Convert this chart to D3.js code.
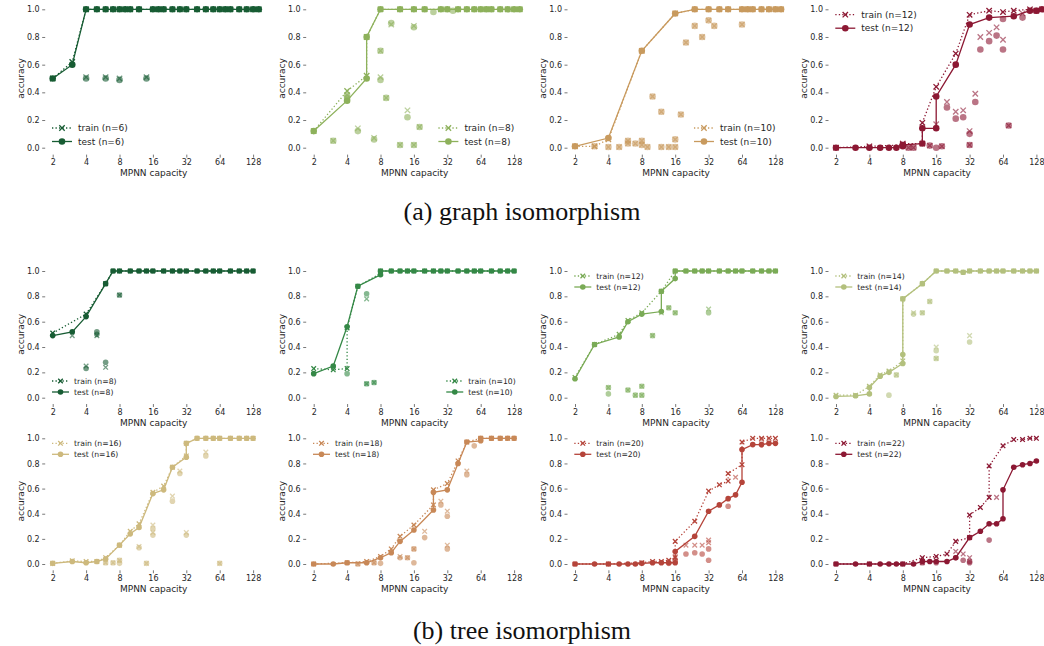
<!DOCTYPE html>
<html><head><meta charset="utf-8">
<script src="https://cdn.jsdelivr.net/npm/d3@7"></script>
<style>body{margin:0;background:#fff;} svg{display:block;}</style>
</head><body><svg id="c" width="1044" height="646"></svg>
<script>
// ---------- tick labels ----------
const xTicks = [2, 4, 8, 16, 32, 64, 128];
const yTicks = [0, 0.2, 0.4, 0.6, 0.8, 1.0];
const captions = ["(a) graph isomorphism", "(b) tree isomorphism"];

// ---------- graph isomorphism, n=6 ----------
const g6TestLine = [[2,0.50],[3,0.60],[4,1],[5,1],[6,1],[7,1],[8,1],[9,1],[10,1],[12,1],[16,1],[18,1],[20,1],[24,1],[28,1],[32,1],[40,1],[48,1],[56,1],[64,1],[72,1],[80,1],[96,1],[112,1],[128,1],[144,1]];
const g6TrainLine = [[2,0.50],[3,0.62],[4,1],[5,1],[6,1],[7,1],[8,1],[9,1],[10,1],[12,1],[16,1],[18,1],[20,1],[24,1],[28,1],[32,1],[40,1],[48,1],[56,1],[64,1],[72,1],[80,1],[96,1],[112,1],[128,1],[144,1]];
const g6TrainRuns = [[4,0.51],[6,0.51],[8,0.50],[14,0.51]];
const g6TestRuns = [[4,0.50],[6,0.50],[8,0.49],[14,0.50]];

// ---------- graph isomorphism, n=8 ----------
const g8TestLine = [[2,0.12],[4,0.34],[6,0.50],[6,0.80],[8,1],[12,1],[16,1],[20,1],[28,1],[32,1],[40,1],[48,1],[56,1],[64,1],[72,1],[80,1],[96,1],[112,1],[128,1],[144,1]];
const g8TrainLine = [[2,0.12],[4,0.41],[6,0.52],[6,0.80],[8,1],[12,1],[16,1],[20,1],[28,1],[32,1],[40,1],[48,1],[56,1],[64,1],[72,1],[80,1],[96,1],[112,1],[128,1],[144,1]];
const g8TrainRuns = [[3,0.05],[4,0.38],[5,0.14],[7,0.07],[8,0.70],[8,0.51],[9,0.36],[10,0.89],[12,0.02],[14,0.27],[16,0.88],[16,0.02],[18,0.15]];
const g8TestRuns = [[3,0.05],[4,0.36],[4,0.38],[5,0.12],[7,0.06],[8,0.70],[8,0.49],[9,0.36],[10,0.90],[12,0.02],[14,0.22],[16,0.87],[16,0.02],[18,0.15],[24,0.98],[36,0.99]];

// ---------- graph isomorphism, n=10 ----------
const g10TestLine = [[2,0.01],[4,0.07],[8,0.70],[16,0.97],[24,1],[32,1],[40,1],[48,1],[64,1],[72,1],[80,1],[96,1],[112,1],[128,1],[144,1]];
const g10TrainLine = [[2,0.01],[3,0.01],[4,0.06],[8,0.70],[16,0.97],[24,1],[32,1],[40,1],[48,1],[64,1],[72,1],[80,1],[96,1],[112,1],[128,1],[144,1]];
const g10TrainRuns = [[3,0.01],[4,0.005],[5,0.005],[6,0.05],[6,0.03],[7,0.03],[8,0.05],[8,0.02],[9,0.005],[10,0.37],[12,0.26],[12,0.005],[14,0.005],[16,0.06],[16,0.005],[18,0.24],[20,0.76],[24,0.88],[28,0.80],[32,0.92],[36,0.88],[64,0.89]];
const g10TestRuns = [[3,0.01],[4,0.005],[5,0.005],[6,0.05],[6,0.03],[7,0.03],[8,0.05],[8,0.02],[9,0.005],[10,0.37],[12,0.26],[12,0.005],[14,0.005],[16,0.06],[16,0.005],[18,0.24],[20,0.76],[24,0.88],[28,0.80],[32,0.92],[36,0.88],[64,0.89]];

// ---------- graph isomorphism, n=12 ----------
const g12TestLine = [[2,0],[3,0],[4,0],[5,0],[6,0],[7,0],[8,0.01],[8,0.02],[12,0.03],[12,0.14],[16,0.14],[16,0.37],[24,0.60],[32,0.89],[48,0.94],[80,0.95],[112,0.99],[128,0.99],[144,1.0]];
const g12TrainLine = [[2,0],[4,0.01],[8,0.02],[8,0.03],[12,0.03],[12,0.18],[16,0.44],[24,0.68],[32,0.96],[48,0.99],[64,0.98],[80,0.99],[112,1.0],[128,0.99],[144,1.0]];
const g12TrainRuns = [[9,0],[10,0],[14,0.015],[16,0.17],[18,0.01],[20,0.33],[24,0.26],[28,0.27],[32,0.12],[32,0.02],[36,0.39],[40,0.80],[48,0.83],[56,0.87],[64,0.78],[72,0.16],[96,0.97]];
const g12TestRuns = [[8,0.02],[9,0],[10,0],[14,0.015],[16,0],[18,0.01],[20,0.29],[24,0.21],[28,0.22],[32,0.10],[32,0.02],[36,0.33],[40,0.71],[48,0.77],[56,0.81],[64,0.71],[64,0.93],[72,0.16],[96,0.94],[128,0.99]];

// ---------- tree isomorphism, n=8 ----------
const t8TestLine = [[2,0.49],[3,0.52],[4,0.64],[6,0.90],[7,1],[8,1],[10,1],[12,1],[14,1],[16,1],[20,1],[24,1],[28,1],[32,1],[40,1],[48,1],[56,1],[64,1],[80,1],[96,1],[112,1],[128,1]];
const t8TrainLine = [[2,0.51],[4,0.66],[6,0.90],[7,1],[8,1],[10,1],[12,1],[14,1],[16,1],[20,1],[24,1],[28,1],[32,1],[40,1],[48,1],[56,1],[64,1],[80,1],[96,1],[112,1],[128,1]];
const t8TrainRuns = [[3,0.49],[4,0.25],[5,0.49],[6,0.24],[8,0.81]];
const t8TestRuns = [[4,0.23],[5,0.52],[5,0.50],[6,0.28],[8,0.81]];

// ---------- tree isomorphism, n=10 ----------
const t10TestLine = [[2,0.19],[3,0.25],[4,0.56],[5,0.88],[8,0.97],[8,1],[10,1],[12,1],[14,1],[16,1],[20,1],[24,1],[28,1],[32,1],[40,1],[48,1],[56,1],[64,1],[80,1],[96,1],[112,1],[128,1]];
const t10TrainLine = [[2,0.23],[3,0.22],[4,0.23],[4,0.55],[5,0.88],[8,0.98],[8,1],[10,1],[12,1],[14,1],[16,1],[20,1],[24,1],[28,1],[32,1],[40,1],[48,1],[56,1],[64,1],[80,1],[96,1],[112,1],[128,1]];
const t10TrainRuns = [[6,0.78],[6,0.11],[7,0.12]];
const t10TestRuns = [[4,0.19],[6,0.82],[6,0.11],[7,0.12]];

// ---------- tree isomorphism, n=12 ----------
const t12TestLine = [[2,0.15],[3,0.42],[5,0.48],[6,0.60],[8,0.66],[12,0.68],[12,0.84],[16,0.94],[16,1],[20,1],[24,1],[28,1],[32,1],[40,1],[48,1],[56,1],[64,1],[80,1],[96,1],[112,1],[128,1]];
const t12TrainLine = [[2,0.16],[3,0.42],[5,0.50],[6,0.61],[8,0.67],[12,0.84],[16,1],[20,1],[24,1],[28,1],[32,1],[40,1],[48,1],[56,1],[64,1],[80,1],[96,1],[112,1],[128,1]];
const t12TrainRuns = [[4,0.08],[6,0.06],[7,0.02],[8,0.09],[8,0.02],[10,0.49],[12,0.67],[14,0.71],[16,0.67],[32,0.70]];
const t12TestRuns = [[4,0.08],[4,0.03],[6,0.06],[7,0.02],[8,0.09],[8,0.02],[10,0.49],[14,0.71],[16,0.67],[32,0.67]];

// ---------- tree isomorphism, n=14 ----------
const t14TestLine = [[2,0.01],[3,0.015],[4,0.03],[4,0.08],[5,0.17],[6,0.20],[8,0.27],[8,0.34],[8,0.78],[12,0.90],[16,1],[20,1],[24,1],[28,0.99],[32,1],[40,1],[48,1],[56,1],[64,1],[80,1],[96,1],[112,1],[128,1]];
const t14TrainLine = [[2,0.02],[3,0.02],[4,0.09],[5,0.18],[6,0.21],[8,0.29],[8,0.78],[12,0.90],[16,1],[20,1],[24,1],[28,0.99],[32,1],[40,1],[48,1],[56,1],[64,1],[80,1],[96,1],[112,1],[128,1]];
const t14TrainRuns = [[7,0.18],[10,0.67],[12,0.67],[14,0.76],[16,0.40],[16,0.31],[32,0.49]];
const t14TestRuns = [[6,0.02],[7,0.18],[10,0.66],[12,0.67],[14,0.76],[16,0.37],[16,0.31],[32,0.44]];

// ---------- tree isomorphism, n=16 ----------
const t16TestLine = [[2,0.005],[3,0.02],[4,0.01],[5,0.02],[6,0.04],[8,0.15],[10,0.24],[12,0.29],[16,0.56],[20,0.59],[24,0.77],[32,0.85],[32,0.96],[40,1],[48,1],[56,1],[64,1],[80,1],[96,1],[112,1],[128,1]];
const t16TrainLine = [[2,0.005],[3,0.025],[4,0.02],[5,0.02],[6,0.05],[8,0.15],[10,0.26],[12,0.32],[16,0.57],[20,0.62],[24,0.77],[32,0.86],[32,0.96],[40,1],[48,1],[56,1],[64,1],[80,1],[96,1],[112,1],[128,1]];
const t16TrainRuns = [[6,0.01],[7,0.01],[8,0.03],[12,0.14],[14,0.005],[16,0.31],[16,0.25],[24,0.54],[28,0.74],[32,0.25],[48,0.89],[64,0.005]];
const t16TestRuns = [[6,0.01],[7,0.01],[8,0.03],[8,0.005],[12,0.13],[14,0.005],[16,0.28],[16,0.23],[24,0.50],[28,0.72],[32,0.23],[48,0.86],[64,0.005]];

// ---------- tree isomorphism, n=18 ----------
const t18TestLine = [[2,0],[3,0],[4,0.01],[6,0.01],[8,0.05],[10,0.09],[12,0.18],[16,0.27],[24,0.43],[24,0.57],[32,0.59],[40,0.80],[48,0.97],[64,0.98],[64,1],[80,1],[96,1],[112,1],[128,1]];
const t18TrainLine = [[2,0],[4,0.01],[6,0.02],[8,0.06],[10,0.12],[12,0.22],[16,0.31],[24,0.47],[24,0.59],[32,0.64],[40,0.82],[48,0.97],[64,1],[80,1],[96,1],[112,1],[128,1]];
const t18TrainRuns = [[5,0],[7,0.01],[12,0.06],[14,0.05],[16,0.12],[20,0.26],[28,0.50],[32,0.42],[32,0.15],[48,0.74]];
const t18TestRuns = [[5,0],[7,0.01],[8,0.005],[12,0.05],[14,0.05],[16,0.12],[16,0.01],[20,0.21],[28,0.47],[32,0.38],[32,0.12],[48,0.71],[56,0.94]];

// ---------- tree isomorphism, n=20 ----------
const t20TestLine = [[2,0],[3,0],[4,0],[5,0],[6,0],[7,0],[8,0.005],[10,0.01],[12,0.01],[14,0.01],[16,0.01],[16,0.10],[24,0.22],[32,0.42],[40,0.47],[48,0.52],[56,0.55],[64,0.65],[64,0.91],[80,0.95],[96,0.95],[112,0.96],[128,0.96]];
const t20TrainLine = [[2,0],[4,0],[8,0.01],[10,0.02],[12,0.02],[14,0.03],[16,0.05],[16,0.18],[24,0.34],[32,0.58],[40,0.63],[48,0.66],[48,0.72],[64,0.79],[64,0.97],[80,1],[96,1],[112,1],[128,1]];
const t20TrainRuns = [[16,0.06],[20,0.15],[24,0.15],[28,0.15],[32,0.19],[32,0.17],[56,0.69],[96,0.99]];
const t20TestRuns = [[14,0.005],[16,0.03],[20,0.08],[24,0.09],[28,0.08],[32,0.12],[32,0.03],[48,0.46],[96,0.95]];

// ---------- tree isomorphism, n=22 ----------
const t22TestLine = [[2,0],[3,0],[4,0],[5,0],[6,0],[7,0],[8,0],[10,0],[12,0.02],[14,0.02],[16,0.02],[20,0.02],[24,0.05],[32,0.21],[40,0.26],[48,0.32],[56,0.32],[64,0.36],[64,0.59],[80,0.77],[96,0.79],[112,0.80],[128,0.82]];
const t22TrainLine = [[2,0],[4,0],[8,0],[12,0.05],[16,0.06],[20,0.08],[24,0.18],[32,0.21],[32,0.39],[40,0.45],[48,0.53],[48,0.78],[64,0.94],[80,0.99],[96,0.99],[112,1],[128,1]];
const t22TrainRuns = [[12,0.01],[24,0.10],[28,0.08],[32,0.05],[56,0.53]];
const t22TestRuns = [[12,0.01],[16,0.01],[24,0.05],[28,0.03],[32,0.01],[32,0.02],[48,0.19]];

// ---------- panel table (built from the arrays above) ----------
const panels = [
  {row:0,col:0,n:6, color:"#175c33",test:g6TestLine, train:g6TrainLine, testRuns:g6TestRuns, trainRuns:g6TrainRuns, leg:"ll"},
  {row:0,col:1,n:8, color:"#8db15b",test:g8TestLine, train:g8TrainLine, testRuns:g8TestRuns, trainRuns:g8TrainRuns, leg:"lr"},
  {row:0,col:2,n:10,color:"#c89a5e",test:g10TestLine,train:g10TrainLine,testRuns:g10TestRuns,trainRuns:g10TrainRuns,leg:"lr"},
  {row:0,col:3,n:12,color:"#8c1833",test:g12TestLine,train:g12TrainLine,testRuns:g12TestRuns,trainRuns:g12TrainRuns,leg:"ul"},
  {row:1,col:0,n:8, color:"#175c33",test:t8TestLine, train:t8TrainLine, testRuns:t8TestRuns, trainRuns:t8TrainRuns, leg:"ll"},
  {row:1,col:1,n:10,color:"#348846",test:t10TestLine,train:t10TrainLine,testRuns:t10TestRuns,trainRuns:t10TrainRuns,leg:"lr"},
  {row:1,col:2,n:12,color:"#7aab56",test:t12TestLine,train:t12TrainLine,testRuns:t12TestRuns,trainRuns:t12TrainRuns,leg:"ul"},
  {row:1,col:3,n:14,color:"#b3c07d",test:t14TestLine,train:t14TrainLine,testRuns:t14TestRuns,trainRuns:t14TrainRuns,leg:"ul"},
  {row:2,col:0,n:16,color:"#cdb97d",test:t16TestLine,train:t16TrainLine,testRuns:t16TestRuns,trainRuns:t16TrainRuns,leg:"ul"},
  {row:2,col:1,n:18,color:"#c88857",test:t18TestLine,train:t18TrainLine,testRuns:t18TestRuns,trainRuns:t18TrainRuns,leg:"ul"},
  {row:2,col:2,n:20,color:"#b5443a",test:t20TestLine,train:t20TrainLine,testRuns:t20TestRuns,trainRuns:t20TrainRuns,leg:"ul"},
  {row:2,col:3,n:22,color:"#8c1833",test:t22TestLine,train:t22TrainLine,testRuns:t22TestRuns,trainRuns:t22TrainRuns,leg:"ul"}
];

// ---------- layout ----------
const rows = [
  {y1: 9.3,   y0: 147.7, small:false},
  {y1: 271,   y0: 397.7, small:true},
  {y1: 438.3, y0: 564,   small:true}
];
const colX2 = [52.7, 313.7, 575, 836];
const octave = 33.4;
const FONT = "'DejaVu Sans', sans-serif";
const TXT = "#262626";

const svg = d3.select("#c");

function drawX(g, cx, cy, h, color, op) {
  g.append("path")
    .attr("d", `M${cx-h},${cy-h}L${cx+h},${cy+h}M${cx-h},${cy+h}L${cx+h},${cy-h}`)
    .attr("stroke", color).attr("stroke-width", 1.3).attr("fill", "none")
    .attr("opacity", op);
}

panels.forEach(p => {
  const r = rows[p.row];
  const x2 = colX2[p.col];
  const s = r.small
    ? {rad:2.8, xh:2.3, legFont:7.7, handle:17, textOff:22, rowGap:11}
    : {rad:3.3, xh:2.7, legFont:9,   handle:20, textOff:26, rowGap:13.5};
  const x = d3.scaleLog().base(2).domain([2, 128]).range([x2, x2 + 6 * octave]);
  const y = d3.scaleLinear().domain([0, 1]).range([r.y0, r.y1]);
  const g = svg.append("g");
  const axisLeftX = x2 - 7.5;
  const axisBottomY = y(-0.05);

  // y axis
  const ya = g.append("g").attr("transform", `translate(${axisLeftX},0)`)
    .call(d3.axisLeft(y).tickValues(yTicks).tickFormat(d3.format(".1f")).tickSize(3).tickPadding(2.5));
  ya.select(".domain").remove();
  ya.selectAll("line").attr("stroke", "#555").attr("stroke-width", 0.8);
  ya.selectAll("text").attr("font-family", FONT).attr("font-size", 8).attr("fill", TXT);

  // x axis
  const xa = g.append("g").attr("transform", `translate(0,${axisBottomY})`)
    .call(d3.axisBottom(x).tickValues(xTicks).tickFormat(d3.format("d")).tickSize(3).tickPadding(2));
  xa.select(".domain").remove();
  xa.selectAll("line").attr("stroke", "#555").attr("stroke-width", 0.8);
  xa.selectAll("text").attr("font-family", FONT).attr("font-size", 8).attr("fill", TXT);

  // axis labels
  g.append("text").attr("x", x2 + 101).attr("y", axisBottomY + 21.7)
    .attr("text-anchor", "middle").attr("font-family", FONT).attr("font-size", 9)
    .attr("fill", TXT).text("MPNN capacity");
  g.append("text")
    .attr("transform", `translate(${x2 - 32},${(r.y0 + r.y1) / 2}) rotate(-90)`)
    .attr("dy", "0.32em").attr("text-anchor", "middle")
    .attr("font-family", FONT).attr("font-size", 9).attr("fill", TXT).text("accuracy");

  // other runs (lighter)
  p.trainRuns.forEach(d => drawX(g, x(d[0]), y(d[1]), s.xh, p.color, 0.6));
  g.selectAll(null).data(p.testRuns).enter().append("circle")
    .attr("cx", d => x(d[0])).attr("cy", d => y(d[1])).attr("r", s.rad)
    .attr("fill", p.color).attr("opacity", 0.6);

  const line = d3.line().x(d => x(d[0])).y(d => y(d[1]));
  // train line (dotted, x markers)
  g.append("path").attr("d", line(p.train)).attr("fill", "none")
    .attr("stroke", p.color).attr("stroke-width", 1.3).attr("stroke-dasharray", "1.3,2.2");
  p.train.forEach(d => drawX(g, x(d[0]), y(d[1]), s.xh, p.color, 1));
  // test line (solid, circle markers)
  g.append("path").attr("d", line(p.test)).attr("fill", "none")
    .attr("stroke", p.color).attr("stroke-width", 1.3);
  g.selectAll(null).data(p.test).enter().append("circle")
    .attr("cx", d => x(d[0])).attr("cy", d => y(d[1])).attr("r", s.rad)
    .attr("fill", p.color);

  // legend
  const items = [
    {label: `train (n=${p.n})`, dashed: true},
    {label: `test (n=${p.n})`, dashed: false}
  ];
  const lg = g.append("g");
  const texts = items.map((it, i) => lg.append("text").attr("x", s.textOff).attr("y", i * s.rowGap)
      .attr("dy", "0.35em").attr("font-family", FONT).attr("font-size", s.legFont)
      .attr("fill", TXT).text(it.label));
  const maxW = d3.max(texts, t => t.node().getComputedTextLength());
  items.forEach((it, i) => {
    const yy = i * s.rowGap;
    const ln = lg.append("line").attr("x1", 0).attr("x2", s.handle).attr("y1", yy).attr("y2", yy)
      .attr("stroke", p.color).attr("stroke-width", 1.3);
    if (it.dashed) { ln.attr("stroke-dasharray", "1.3,2.2"); drawX(lg, s.handle / 2, yy, s.xh, p.color, 1); }
    else lg.append("circle").attr("cx", s.handle / 2).attr("cy", yy).attr("r", s.rad).attr("fill", p.color);
  });
  let lx, ly;
  if (p.leg === "ll") { lx = x2 - 0.7; ly = r.y0 - (r.small ? 16.7 : 19.7); }
  else if (p.leg === "lr") { lx = x2 + (r.small ? 202 : 200.5) - s.textOff - maxW; ly = r.y0 - (r.small ? 16.7 : 19.7); }
  else { lx = x2 - 0.7; ly = r.y1 + (r.small ? 5 : 5.4); }
  lg.attr("transform", `translate(${lx},${ly})`);
});

// captions
svg.append("text").attr("x", 522).attr("y", 220).attr("text-anchor", "middle")
  .attr("font-family", "'Liberation Serif', 'Times New Roman', serif").attr("font-size", 26)
  .attr("fill", "#111").text(captions[0]);
svg.append("text").attr("x", 522).attr("y", 639).attr("text-anchor", "middle")
  .attr("font-family", "'Liberation Serif', 'Times New Roman', serif").attr("font-size", 26)
  .attr("fill", "#111").text(captions[1]);
</script>
</body></html>
